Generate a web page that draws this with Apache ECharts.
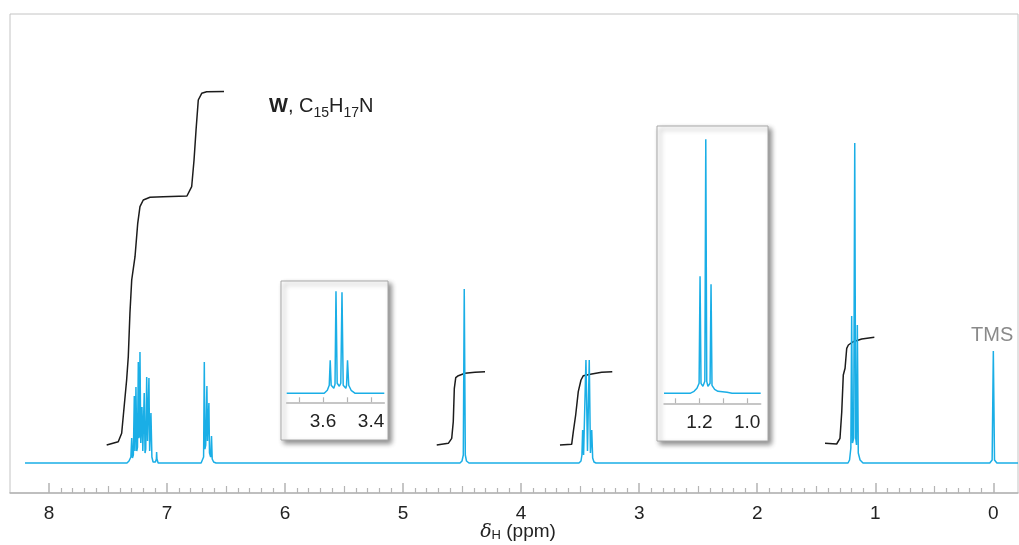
<!DOCTYPE html>
<html><head><meta charset="utf-8">
<script src="https://cdn.jsdelivr.net/npm/echarts@6/dist/echarts.min.js"></script>
<style>html,body{margin:0;padding:0;background:#fff}#c{width:1019px;height:545px}</style>
</head><body><div id="c"></div>
<script>
// ---- data: [ppm, intensity] ----
const aromaticPeaks = [[7.339,0],[7.322,2],[7.306,6],[7.299,25],[7.293,5],[7.285,8],[7.277,67],[7.271,12],[7.267,14],[7.263,76],[7.256,12],[7.250,16],[7.243,101],[7.238,25],[7.233,28],[7.229,111],[7.222,20],[7.217,18],[7.212,56],[7.205,12],[7.199,14],[7.193,70],[7.186,10],[7.180,14],[7.172,86],[7.165,22],[7.160,22],[7.153,85],[7.147,12],[7.142,10],[7.136,50],[7.128,6],[7.118,1],[7.098,1],[7.090,4],[7.088,11],[7.085,4],[7.075,0]];
const anilinePeaks = [[6.711,0],[6.699,2],[6.690,6],[6.684,101],[6.679,14],[6.672,18],[6.666,20],[6.662,77],[6.657,22],[6.650,24],[6.645,60],[6.640,10],[6.630,6],[6.623,27],[6.617,4],[6.605,1],[6.585,0]];
const singletPeak = [[4.518,0],[4.501,2],[4.490,8],[4.482,174],[4.473,8],[4.463,2],[4.442,0]];
const quartetPeaks = [[3.510,0],[3.493,2],[3.485,8],[3.479,33],[3.471,8],[3.461,10],[3.451,103],[3.438,12],[3.423,103],[3.413,10],[3.402,33],[3.394,5],[3.383,1],[3.366,0]];
const tripletPeaks = [[1.231,0],[1.218,3],[1.207,15],[1.200,147],[1.193,20],[1.183,25],[1.174,320],[1.166,25],[1.159,18],[1.152,138],[1.144,10],[1.129,3],[1.104,0]];
const tmsPeak = [[0.030,0],[0.010,3],[0.000,112],[-0.010,3],[-0.030,0]];
const spectrumStart = [8.203, 0];
const spectrumEnd = [-0.209, 0];

const integralAromatic = [[7.511,18],[7.413,21.3],[7.384,29.7],[7.342,83],[7.328,106.3],[7.314,149.7],[7.299,183],[7.271,206.3],[7.248,239.7],[7.229,256.3],[7.201,263],[7.144,265.7],[7.032,266.3],[6.831,267],[6.791,276.3],[6.771,303],[6.754,333],[6.735,363],[6.706,369.7],[6.664,371.3],[6.517,371.5]];
const integralCH2 = [[4.715,18],[4.617,19.7],[4.588,24.7],[4.575,41.3],[4.566,74.7],[4.554,85.3],[4.532,87.3],[4.476,89.7],[4.391,90.7],[4.306,91.3]];
const integralQuartet = [[3.671,18],[3.572,18.7],[3.558,31.3],[3.538,48],[3.516,71.3],[3.493,83],[3.473,87.3],[3.402,89],[3.318,90.7],[3.228,91.3]];
const integralTriplet = [[1.426,19.7],[1.327,19],[1.299,24.7],[1.284,51.3],[1.271,88],[1.256,94.7],[1.242,114.7],[1.228,118],[1.186,121.3],[1.115,124],[1.008,125.7]];

const insetQuartet = [[3.751,0],[3.595,0],[3.582,3],[3.574,8],[3.570,33],[3.566,8],[3.555,5],[3.550,9],[3.546,102],[3.541,10],[3.532,7],[3.526,10],[3.521,101],[3.516,8],[3.505,5],[3.502,8],[3.498,33],[3.493,8],[3.483,3],[3.466,0],[3.345,0]];
const insetTriplet = [[1.348,0],[1.239,0],[1.222,2],[1.210,5],[1.201,10],[1.197,117],[1.193,10],[1.185,7],[1.177,12],[1.173,254],[1.169,12],[1.164,7],[1.155,10],[1.151,109],[1.147,8],[1.136,4],[1.122,2],[1.084,1],[1.063,0],[0.943,0]];

const mainTickLabels = [0,1,2,3,4,5,6,7,8];
const insetQuartetTicks = [3.4,3.5,3.6,3.7];
const insetQuartetLabels = [3.4,3.6];
const insetTripletTicks = [1.0,1.1,1.2,1.3];
const insetTripletLabels = [1.0,1.2];

// ---- derived tick positions (styling only) ----
const halfTicks = [], minorTicks = [];
for (let i = 0; i < 80; i++) {
  if (i % 10 === 0) continue;
  const v = +(i / 10).toFixed(1);
  if (i % 10 === 5) halfTicks.push(v); else minorTicks.push(v);
}

const spectrum = [spectrumStart].concat(aromaticPeaks, anilinePeaks, singletPeak, quartetPeaks, tripletPeaks, tmsPeak, [spectrumEnd]);

const FONT = 'Liberation Sans, Arial, Helvetica, sans-serif';
const BLUE = '#1aaee6';
const BLACK = '#1c1c1c';
const GRAY = '#b4b4b4';

const XMIN = -0.209, XMAX = 8.330;

function mainAxis(extra) {
  return Object.assign({
    type: 'value', gridIndex: 0, inverse: true, min: XMIN, max: XMAX, position: 'bottom',
    splitLine: { show: false },
    axisLine: { show: false, onZero: false },
    axisLabel: { show: false },
    axisTick: { show: false }
  }, extra);
}

const option = {
  animation: false,
  backgroundColor: '#fff',
  textStyle: { fontFamily: FONT },
  grid: [
    { left: 10, right: 1, top: 14, bottom: 52, show: true, borderColor: '#c4c4c4', borderWidth: 1, backgroundColor: 'transparent', containLabel: false, outerBoundsMode: 'none' },
    { left: 286.7, top: 287, width: 97.6, height: 115.3, containLabel: false, outerBoundsMode: 'none' },
    { left: 664, top: 130, width: 96.7, height: 273.3, containLabel: false, outerBoundsMode: 'none' }
  ],
  xAxis: [
    mainAxis({
      axisLine: { show: true, onZero: false, lineStyle: { color: GRAY, width: 1.5 } },
      axisTick: { show: true, inside: true, length: 10, customValues: mainTickLabels, lineStyle: { color: GRAY, width: 1.5 } },
      axisLabel: { show: true, customValues: mainTickLabels, margin: 11, fontSize: 19, color: '#222', fontFamily: FONT, formatter: v => String(Math.round(v)) },
      name: '{d|δ}{h|H} (ppm)',
      nameLocation: 'middle', nameGap: 29, nameMoveOverlap: false,
      nameTextStyle: { fontSize: 19, color: '#222', fontFamily: FONT, padding: [0, 0, 0, 8],
        rich: { d: { fontSize: 19, fontStyle: 'italic', fontFamily: 'DejaVu Serif, serif', color: '#222' },
                h: { fontSize: 13, padding: [7, 0, 0, 0], color: '#222' } } }
    }),
    mainAxis({ axisTick: { show: true, inside: true, length: 7, customValues: halfTicks, lineStyle: { color: GRAY, width: 1.2 } } }),
    mainAxis({ axisTick: { show: true, inside: true, length: 5, customValues: minorTicks, lineStyle: { color: GRAY, width: 1.2 } } }),
    {
      type: 'value', gridIndex: 1, inverse: true, min: 3.345, max: 3.751,
      splitLine: { show: false },
      axisLine: { show: true, onZero: false, lineStyle: { color: GRAY, width: 1.5 } },
      axisTick: { show: true, inside: true, length: 5, customValues: insetQuartetTicks, lineStyle: { color: GRAY, width: 1.2 } },
      axisLabel: { show: true, customValues: insetQuartetLabels, margin: 10, fontSize: 19, color: '#222', fontFamily: FONT, formatter: v => v.toFixed(1) }
    },
    {
      type: 'value', gridIndex: 2, inverse: true, min: 0.943, max: 1.348,
      splitLine: { show: false },
      axisLine: { show: true, onZero: false, lineStyle: { color: GRAY, width: 1.5 } },
      axisTick: { show: true, inside: true, length: 5, customValues: insetTripletTicks, lineStyle: { color: GRAY, width: 1.2 } },
      axisLabel: { show: true, customValues: insetTripletLabels, margin: 10, fontSize: 19, color: '#222', fontFamily: FONT, formatter: v => v.toFixed(1) }
    }
  ],
  yAxis: [
    { type: 'value', gridIndex: 0, min: -30, max: 449, show: false },
    { type: 'value', gridIndex: 1, min: -9, max: 106.3, show: false },
    { type: 'value', gridIndex: 2, min: -10, max: 263.3, show: false }
  ],
  title: {
    text: '{b|W}{n|, C}{s|15}{n|H}{s|17}{n|N}',
    left: 269, top: 96, padding: 0,
    textStyle: {
      fontFamily: FONT, fontWeight: 'normal',
      rich: {
        b: { fontSize: 20, fontWeight: 'bold', color: '#222', lineHeight: 20, verticalAlign: 'top', fontFamily: FONT },
        n: { fontSize: 20, fontWeight: 'normal', color: '#222', lineHeight: 20, verticalAlign: 'top', fontFamily: FONT },
        s: { fontSize: 14, fontWeight: 'normal', color: '#222', lineHeight: 14, padding: [10, 0, 0, 0], verticalAlign: 'top', fontFamily: FONT }
      }
    }
  },
  graphic: [
    { type: 'rect', z: -1, shape: { x: 281, y: 281, width: 107, height: 159 },
      style: { fill: '#fff', stroke: '#a8a8a8', lineWidth: 1, shadowBlur: 5, shadowOffsetX: 3, shadowOffsetY: 3, shadowColor: 'rgba(0,0,0,0.45)' } },
    { type: 'rect', z: -1, shape: { x: 657, y: 126, width: 111, height: 315 },
      style: { fill: '#fff', stroke: '#a8a8a8', lineWidth: 1, shadowBlur: 5, shadowOffsetX: 3, shadowOffsetY: 3, shadowColor: 'rgba(0,0,0,0.45)' } },
    { type: 'text', left: 971, top: 325, style: { text: 'TMS', fontSize: 20, fill: '#8a8a8a', fontFamily: FONT } }
  ],
  series: [
    { type: 'line', xAxisIndex: 0, yAxisIndex: 0, data: spectrum, showSymbol: false, lineStyle: { color: BLUE, width: 1.5 }, z: 3 },
    { type: 'line', xAxisIndex: 0, yAxisIndex: 0, data: integralAromatic, showSymbol: false, lineStyle: { color: BLACK, width: 1.5 }, z: 2 },
    { type: 'line', xAxisIndex: 0, yAxisIndex: 0, data: integralCH2, showSymbol: false, lineStyle: { color: BLACK, width: 1.5 }, z: 2 },
    { type: 'line', xAxisIndex: 0, yAxisIndex: 0, data: integralQuartet, showSymbol: false, lineStyle: { color: BLACK, width: 1.5 }, z: 2 },
    { type: 'line', xAxisIndex: 0, yAxisIndex: 0, data: integralTriplet, showSymbol: false, lineStyle: { color: BLACK, width: 1.5 }, z: 2 },
    { type: 'line', xAxisIndex: 3, yAxisIndex: 1, data: insetQuartet, showSymbol: false, lineStyle: { color: BLUE, width: 1.5 }, z: 3 },
    { type: 'line', xAxisIndex: 4, yAxisIndex: 2, data: insetTriplet, showSymbol: false, lineStyle: { color: BLUE, width: 1.5 }, z: 3 }
  ]
};

const chart = echarts.init(document.getElementById('c'), null, { renderer: 'canvas' });
chart.setOption(option);
</script></body></html>
